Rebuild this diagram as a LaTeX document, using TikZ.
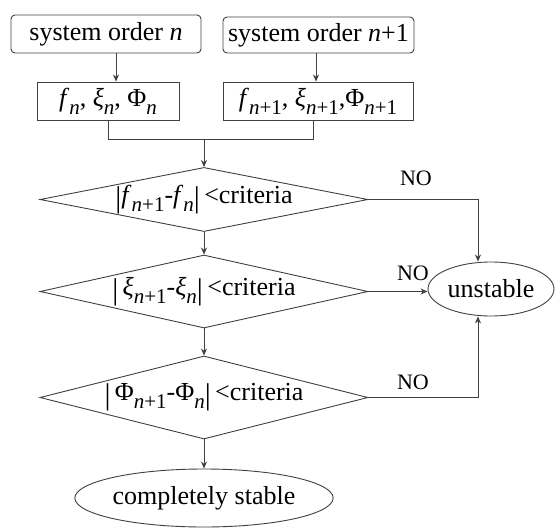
\documentclass[tikz,border=0pt]{standalone}
\usepackage{fontspec}
\setmainfont{Liberation Serif}
\usetikzlibrary{shapes.geometric,arrows.meta,calc}
\newcommand\sbx[1]{\raisebox{-0.3em}{\fontsize{21}{21}\selectfont #1}}
\newcommand\itn{\textit{n}}
\newcommand\vb{\raisebox{-0.15em}{\fontsize{30}{30}\selectfont |}}
\tikzset{
  base/.style={draw=black!75, line width=0.9pt, text=black, font=\fontsize{26}{28}\selectfont, inner sep=0pt},
  rbox/.style={base, rectangle, rounded corners=4pt},
  sbox/.style={base, rectangle},
  dia/.style={base, diamond, minimum width=328pt},
  ell/.style={base, ellipse},
  conn/.style={draw=black!75, line width=0.9pt},
  arr/.style={conn, -{Stealth[length=7pt,width=6pt]}},
  lbl/.style={font=\fontsize{22}{24}\selectfont, inner sep=0pt}
}
\begin{document}
\begin{tikzpicture}[x=1pt,y=-1pt]
\useasboundingbox (0,0) rectangle (555,528);
\node[rbox, minimum width=190pt, minimum height=38pt] (b1) at (106,34) {system order \itn};
\node[rbox, minimum width=191pt, minimum height=36pt] (b2) at (318.5,35) {system order \itn+1};
\node[sbox, minimum width=142pt, minimum height=38pt] (b3) at (108,101) {\textit{f}\sbx{\itn}, \textit{ξ}\sbx{\itn}, Φ\sbx{\itn}};
\node[sbox, minimum width=190pt, minimum height=38pt] (b4) at (318,101) {\textit{f}\sbx{\itn+1}, \textit{ξ}\sbx{\itn+1},Φ\sbx{\itn+1}};
\node[dia, shape aspect=5.0, minimum height=64pt] (d1) at (204,199.5) {\vb\textit{f}\sbx{\itn+1}-\textit{f}\sbx{\itn}\vb\,<criteria};
\node[dia, shape aspect=4.4, minimum height=73pt] (d2) at (204,291.5) {\vb\,\textit{ξ}\sbx{\itn+1}-\textit{ξ}\sbx{\itn}\vb\,<criteria};
\node[dia, shape aspect=3.9, minimum height=83pt] (d3) at (204,397.5) {\vb\,Φ\sbx{\itn+1}-Φ\sbx{\itn}\vb\,<criteria};
\node[ell, minimum width=126pt, minimum height=54pt] (un) at (491,289) {unstable};
\node[ell, minimum width=198pt, minimum height=58pt] (cs) at (204,498) {completely stable};
\coordinate (j) at (d1.north |- 0,139);
\draw[arr] ([xshift=10pt]b1.south) -- ([xshift=10pt]b1.south |- b3.north);
\draw[arr] ([xshift=-2.5pt]b2.south) -- ([xshift=-2.5pt]b2.south |- b4.north);
\draw[conn] (b3.south) -- (b3.south |- j) -- ([xshift=-5pt]b4.south |- j) -- ([xshift=-5pt]b4.south);
\draw[arr] (j) -- (d1.north);
\draw[arr] (d1.south) -- (d2.north);
\draw[arr] (d2.south) -- (d3.north);
\draw[arr] (d3.south) -- (cs.north);
\coordinate (ux) at ([xshift=-13pt]un.north);
\draw[arr] (d1.east) -- (d1.east -| ux) -- (ux);
\draw[arr] (d2.east) -- (d2.east -| un.west);
\coordinate (uy) at ([xshift=-13pt]un.south);
\draw[arr] (d3.east) -- (d3.east -| uy) -- (uy);
\node[lbl] (n1) at (416,178) {NO};
\node[lbl] (n2) at (413,273) {NO};
\node[lbl] (n3) at (413,382) {NO};
\end{tikzpicture}
\end{document}
